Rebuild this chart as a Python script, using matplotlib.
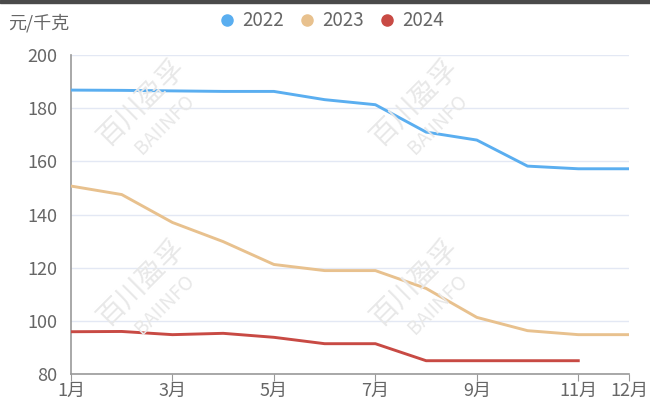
import matplotlib
matplotlib.use("Agg")
import matplotlib.pyplot as plt
from matplotlib.patches import Rectangle

plt.rcParams['font.family'] = ['Noto Sans CJK SC', 'DejaVu Sans']

months = list(range(1, 13))
tick_months = [1, 3, 5, 7, 9, 11, 12]
tick_labels = ["1月", "3月", "5月", "7月", "9月", "11月", "12月"]

s2022 = [186.8, 186.7, 186.5, 186.3, 186.3, 183.2, 181.3, 171.0, 168.0, 158.2, 157.2, 157.2]
s2023 = [150.7, 147.5, 137.0, 129.8, 121.2, 118.9, 118.9, 112.2, 101.3, 96.3, 94.8, 94.8]
m2024 = list(range(1, 12))
s2024 = [95.9, 96.0, 94.8, 95.3, 93.8, 91.4, 91.4, 85.0, 85.0, 85.0, 85.0]

series = [("2022", months, s2022, "#5aaef0"),
          ("2023", months, s2023, "#e8c18e"),
          ("2024", m2024, s2024, "#c84a44")]

fig = plt.figure(figsize=(6.5, 4.12), dpi=100)
ax = fig.add_axes([71/650, 1-374/412, (629-71)/650, (374-55)/412])

for name, xs, ys, c in series:
    ax.plot(xs, ys, color=c, lw=2.1, solid_joinstyle='round', label=name, zorder=3)

ax.set_xlim(1, 12)
ax.set_ylim(80, 200)
ax.set_yticks([80, 100, 120, 140, 160, 180, 200])
ax.set_xticks(tick_months)
ax.set_xticklabels(tick_labels)
ax.grid(axis='y', color='#e3e8f4', lw=1)
ax.set_axisbelow(True)
for sp in ['top', 'right']:
    ax.spines[sp].set_visible(False)
ax.spines['left'].set_color('#999999')
ax.spines['bottom'].set_color('#999999')
ax.spines['left'].set_linewidth(1.2)
ax.spines['bottom'].set_linewidth(1.2)
ax.tick_params(axis='y', length=0, labelsize=13, labelcolor='#666666', pad=10)
ax.tick_params(axis='x', length=5, color='#999999', labelsize=13, labelcolor='#666666', pad=1)

# watermarks
for (px, py) in [(150, 112), (423, 112), (150, 292), (423, 292)]:
    fx, fy = px/650, 1-py/412
    fig.text(fx - 0.014, fy + 0.022, "百川盈孚", rotation=45, fontsize=20, color='#e8e8e8',
             ha='center', va='center', zorder=0)
    fig.text(fx + 0.022, fy - 0.03, "BAIINFO", rotation=45, fontsize=14, color='#e8e8e8',
             ha='center', va='center', zorder=0)

fig.text(8/650, 1-23/412, "元/千克", fontsize=13, color='#666666', ha='left', va='center')

leg = fig.legend(handles=[plt.Line2D([], [], marker='o', ls='', color=c, markersize=8) for _, _, _, c in series],
                 labels=[s[0] for s in series], loc='center', bbox_to_anchor=(331/650, 1-21/412),
                 ncol=3, frameon=False, fontsize=13.5, handlelength=1.0, handletextpad=0.3,
                 columnspacing=0.75, borderpad=0)
for t in leg.get_texts():
    t.set_color('#666666')

fig.patches.append(Rectangle((0, 1-3/412), 1, 3/412, transform=fig.transFigure,
                             color='#4a4a4a', zorder=10))

fig.savefig("out.png", dpi=100)
